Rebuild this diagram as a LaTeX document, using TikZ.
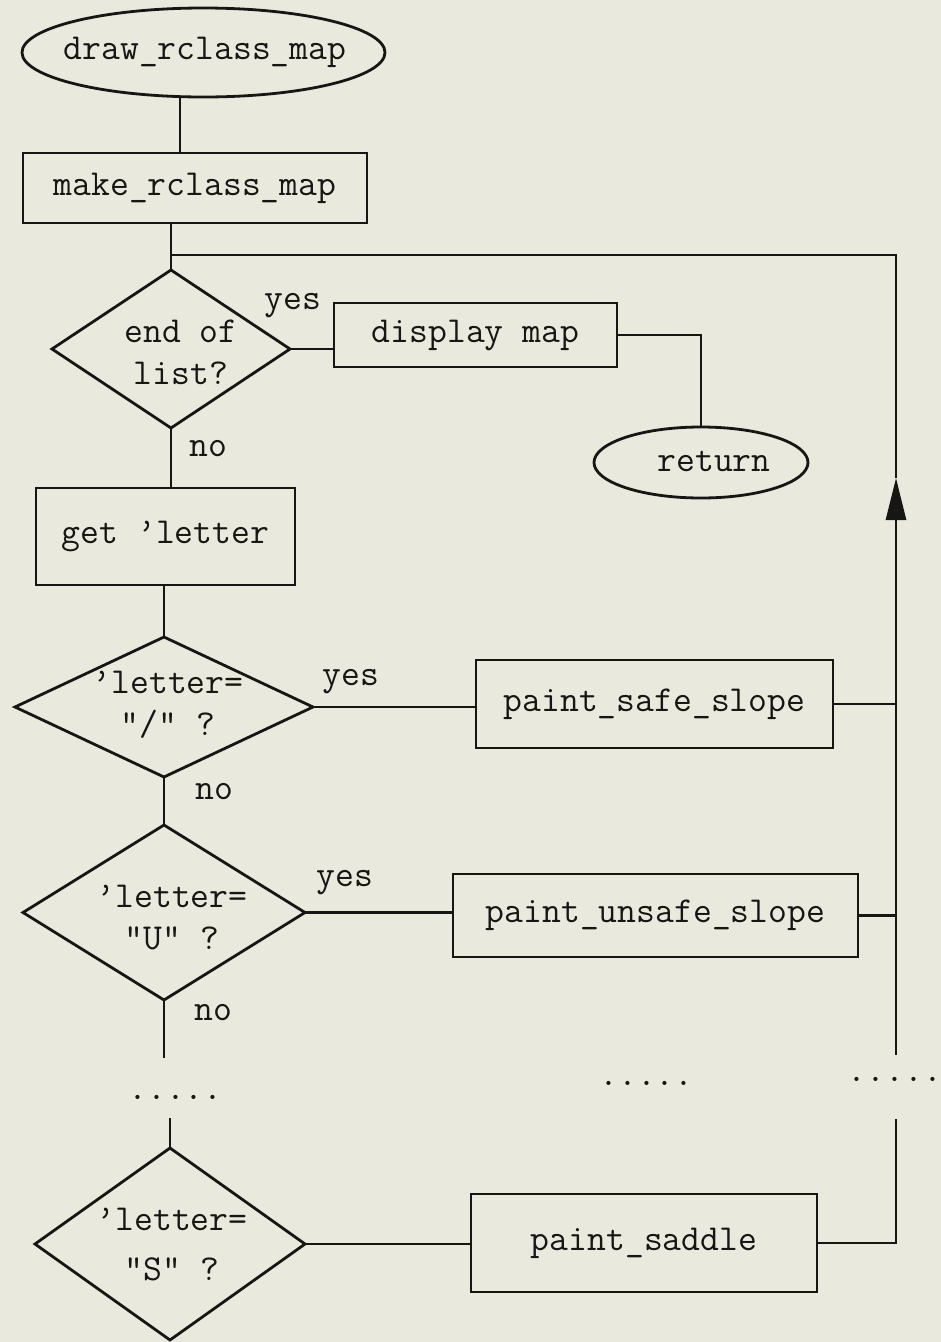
\documentclass[tikz,border=0pt]{standalone}
\usetikzlibrary{shapes.geometric,arrows.meta}
\definecolor{paper}{RGB}{234,233,221}
\definecolor{ink}{RGB}{22,22,20}
\begin{document}
\begin{tikzpicture}[x=1pt,y=-1pt,
  every node/.style={font=\fontsize{36.6}{42}\selectfont\ttfamily, text=ink},
  line/.style={draw=ink, line width=2.8pt},
  proc/.style={rectangle, draw=ink, line width=2.8pt, inner sep=0pt, outer sep=0pt},
  term/.style={ellipse, draw=ink, line width=2.8pt, inner sep=0pt, outer sep=0pt},
  dec/.style={diamond, draw=ink, line width=2.8pt, inner sep=0pt, outer sep=0pt},
  lbl/.style={inner sep=0pt, align=center},
]
% paper
\fill[paper] (0,0) rectangle (941,1342);
\useasboundingbox (0,0) rectangle (941,1342);

% start / terminal
\node[term, minimum width=363pt, minimum height=89pt] (start) at (203.5,52.5) {};
\node[lbl] (startT) at (205,52) {draw\_rclass\_map};
\node[proc, minimum width=344pt, minimum height=70pt] (make) at (195,188) {make\_rclass\_map};

% end-of-list test
\node[dec, minimum width=238pt, minimum height=158pt] (d1) at (171,349) {};
\node[lbl] (d1T) at (181,352) {end of\\list?};
\node[proc, minimum width=283pt, minimum height=64pt] (disp) at (475.5,335) {display map};
\node[term, minimum width=214pt, minimum height=71pt] (ret) at (701,462.5) {};
\node[lbl] (retT) at (714,461) {return};

\node[proc, minimum width=259pt, minimum height=97pt] (get) at (165.5,536.5) {get ’letter};

% letter tests
\node[dec, minimum width=298pt, minimum height=140pt] (d2) at (164,707) {};
\node[lbl] (d2T) at (168,705) {’letter=\\"/" ?};
\node[proc, minimum width=357pt, minimum height=88pt] (safe) at (654.5,704) {paint\_safe\_slope};

\node[dec, minimum width=282pt, minimum height=175pt] (d3) at (164,912.5) {};
\node[lbl] (d3T) at (172,918) {’letter=\\"U" ?};
\node[proc, minimum width=405pt, minimum height=83pt] (unsafe) at (655.5,915.5) {paint\_unsafe\_slope};

\node[dec, minimum width=270pt, minimum height=192pt] (d4) at (170,1244) {};
\node[lbl] (d4T) at (172,1245) {’letter=\\[8pt]"S" ?};
\node[proc, minimum width=346pt, minimum height=98pt] (saddle) at (644,1243) {paint\_saddle};

% ellipsis marks
\node[lbl] (dotsL) at (175.5,1097) {.....};
\node[lbl] (dotsM) at (646.5,1083) {.....};
\node[lbl] (dotsR) at (895,1079) {.....};

% branch labels
\node[lbl] (y1) at (293,306) {yes};
\node[lbl] (n1) at (208,449) {no};
\node[lbl] (y2) at (351,682) {yes};
\node[lbl] (n2) at (214,792) {no};
\node[lbl] (y3) at (345,883) {yes};
\node[lbl] (n3) at (213,1013) {no};

% helper points
\coordinate (colTop) at (896,255);
\coordinate (tip) at (896,478);
\coordinate (colEnd) at (896,1055);
\coordinate (colRestart) at (896,1119);
\coordinate (cutA) at (0,1058);
\coordinate (cutB) at (0,1118);

% main flow
\draw[line] ([xshift=-15pt]make.north) -- ([xshift=-15pt]make.north |- start.south);
\draw[line] (d1.north) -- (d1.north |- make.south);
\draw[line] (d1.east) -- (d1.east -| disp.west);
\draw[line] (disp.east) -| (ret.north);
\draw[line] (d1.south) -- (d1.south |- get.north);
\draw[line] (d2.north) -- (d2.north |- get.south);
\draw[line] (d2.east) -- (d2.east -| safe.west);
\draw[line] (d2.south) -- (d3.north);
\draw[line] (d3.east) -- (d3.east -| unsafe.west);
\draw[line] (d3.south) -- (d3.south |- cutA);
\draw[line] (d4.north) -- (d4.north |- cutB);
\draw[line] (d4.east) -- (d4.east -| saddle.west);

% return path
\draw[line] (safe.east) -- (safe.east -| colTop);
\draw[line] (unsafe.east) -- (unsafe.east -| colTop);
\draw[line] (saddle.east) -- (saddle.east -| colRestart) -- (colRestart);
\draw[line, -{Triangle[length=42pt,width=20pt]}] (colEnd) -- (tip);
\draw[line] (tip) -- (colTop) -- (colTop -| d1.north);
\end{tikzpicture}
\end{document}
